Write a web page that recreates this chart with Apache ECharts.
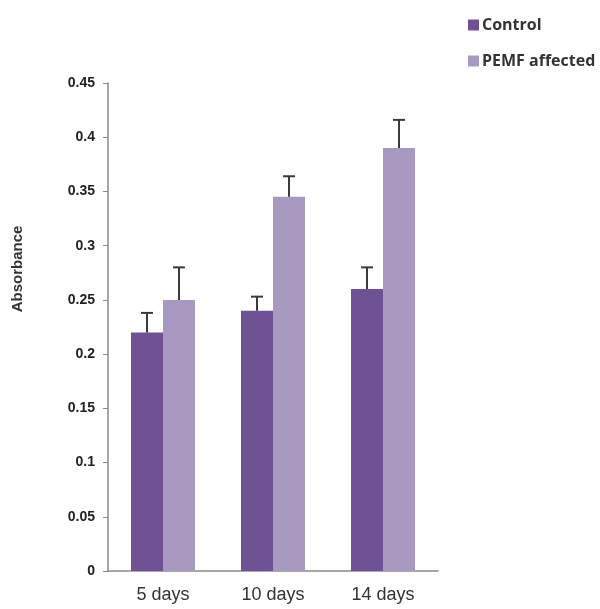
<!DOCTYPE html>
<html><head><meta charset="utf-8">
<script src="https://cdn.jsdelivr.net/npm/echarts@6/dist/echarts.min.js"></script>
<style>html,body{margin:0;padding:0;background:#fff}#c{width:600px;height:609px}</style>
</head><body><div id="c"></div>
<script>
const categories = ['5 days', '10 days', '14 days'];
const controlValues = [0.22, 0.24, 0.26];
const pemfValues = [0.25, 0.345, 0.39];
const controlErrTop = [0.238, 0.253, 0.28];
const pemfErrTop = [0.28, 0.364, 0.416];
const yTicks = [0, 0.05, 0.1, 0.15, 0.2, 0.25, 0.3, 0.35, 0.4, 0.45];
const yTitle = 'Absorbance';

const BAR_W = 32;
function errSeries(name, vals, tops, offset) {
  return {
    type: 'custom', name: name + ' err', silent: true, z: 5,
    data: categories.map((c, i) => [i, vals[i], tops[i]]),
    renderItem: function (params, api) {
      const base = api.coord([api.value(0), api.value(1)]);
      const top = api.coord([api.value(0), api.value(2)]);
      const x = base[0] + offset;
      const cap = 6;
      const st = { stroke: '#3a3a3a', lineWidth: 2 };
      return { type: 'group', children: [
        { type: 'line', shape: { x1: x, y1: base[1], x2: x, y2: top[1] }, style: st },
        { type: 'line', shape: { x1: x - cap, y1: top[1], x2: x + cap, y2: top[1] }, style: st }
      ]};
    }
  };
}

const chart = echarts.init(document.getElementById('c'));
chart.setOption({
  animation: false,
  grid: { left: 108, right: 162, top: 83, bottom: 38, containLabel: false, outerBoundsMode: 'none' },
  legend: {
    orient: 'vertical', left: 463, top: 12, itemWidth: 11, itemHeight: 11, itemGap: 20,
    icon: 'rect',
    data: ['Control', 'PEMF affected'],
    textStyle: { fontFamily: 'Open Sans, sans-serif', fontWeight: 'bold', fontSize: 16, color: '#333', padding: [0, 0, 0, -2] }
  },
  graphic: [{
    type: 'text', x: 18, y: 269, rotation: Math.PI / 2,
    style: { text: yTitle, fontFamily: 'Liberation Sans, Arial, sans-serif', fontWeight: 'bold', fontSize: 15, fill: '#333', align: 'center', verticalAlign: 'middle' }
  }],
  xAxis: {
    type: 'category', data: categories,
    axisLine: { lineStyle: { color: '#8a8a8a', width: 1.5 } },
    axisTick: { show: false },
    axisLabel: { fontFamily: 'Liberation Sans, Arial, sans-serif', fontSize: 18, color: '#333', margin: 15 }
  },
  yAxis: {
    type: 'value', min: 0, max: 0.45, interval: 0.05,
    splitLine: { show: false },
    axisLine: { show: true, lineStyle: { color: '#8a8a8a', width: 1.5 } },
    axisTick: { show: true, length: 5, lineStyle: { color: '#8a8a8a' } },
    axisLabel: {
      fontFamily: 'Liberation Sans, Arial, sans-serif', fontWeight: 'bold', fontSize: 14, color: '#222', margin: 13,
      formatter: v => { const t = yTicks.find(x => Math.abs(x - v) < 1e-9); return String(+(t ?? v).toFixed(2)); }
    }
  },
  series: [
    { type: 'bar', name: 'Control', data: controlValues, barWidth: BAR_W, barGap: '0%', itemStyle: { color: '#6f5293' } },
    { type: 'bar', name: 'PEMF affected', data: pemfValues, barWidth: BAR_W, barGap: '0%', itemStyle: { color: '#a899c0' } },
    errSeries('Control', controlValues, controlErrTop, -BAR_W / 2),
    errSeries('PEMF affected', pemfValues, pemfErrTop, BAR_W / 2)
  ]
});
</script>
</body></html>
